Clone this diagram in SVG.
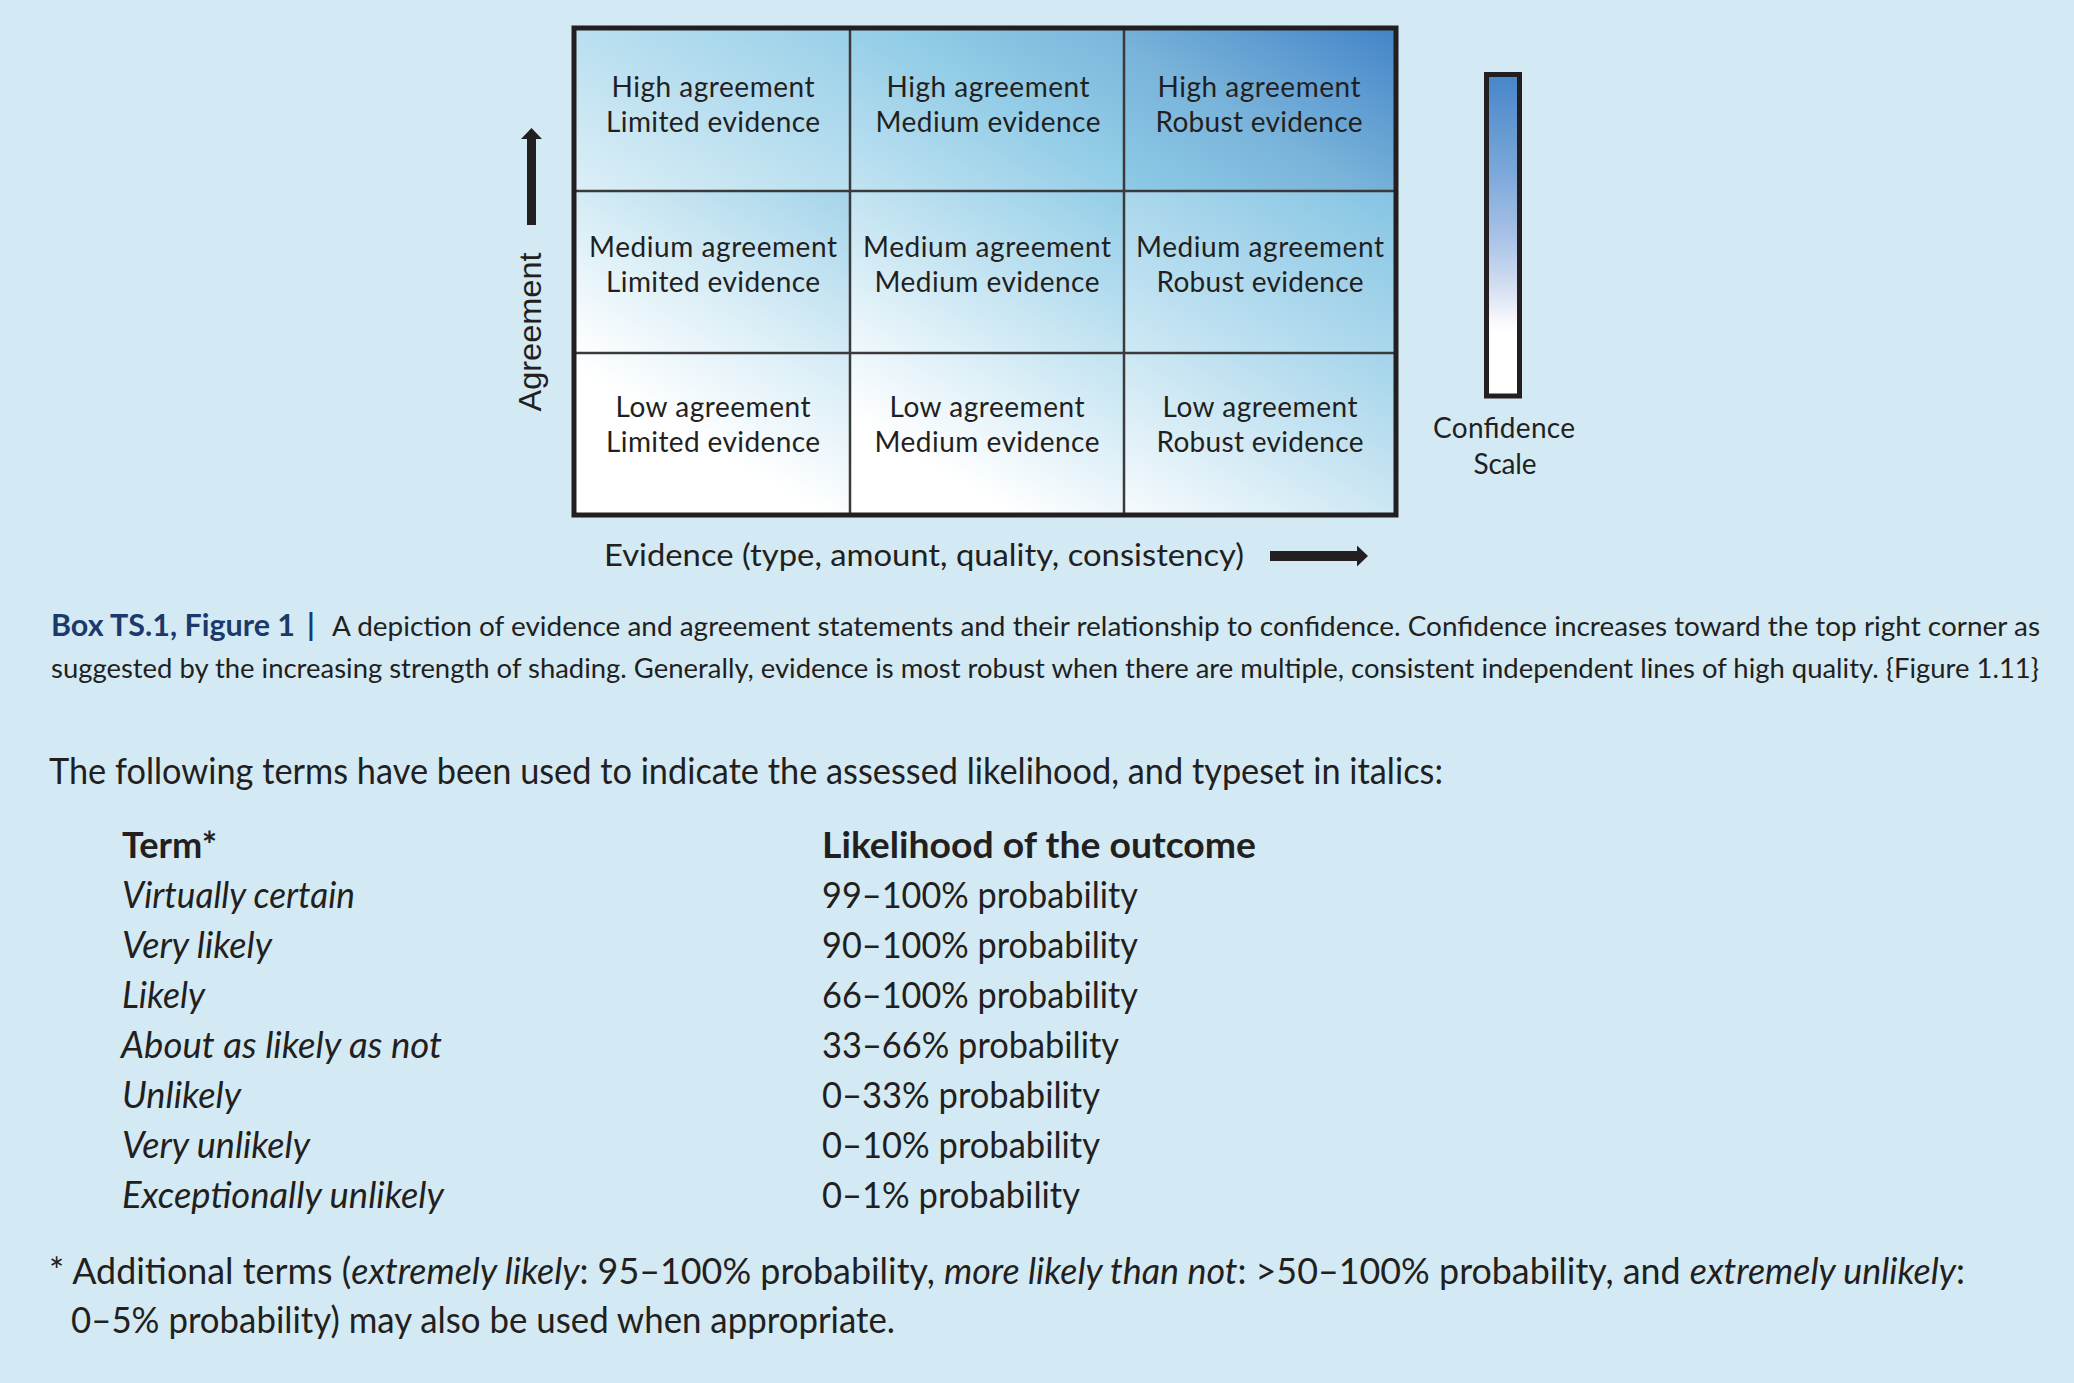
<svg xmlns="http://www.w3.org/2000/svg" width="2074" height="1383" viewBox="0 0 2074 1383">
<style>
  .t { font-family: Lato, "Open Sans", "Liberation Sans", sans-serif; fill: #231f20; }
  .cell { font-size: 28px; text-anchor: middle; }
  .cap { font-size: 27px; }
  .body { font-size: 36px; }
  .b { font-weight: bold; }
  .it { font-style: italic; }
  .navy { fill: #1b3a6b; }
  .inner { stroke: #3a3a3a; stroke-width: 2.5; fill: none; }
  .outer { stroke: #231f20; stroke-width: 5; fill: none; }
  .shaft { stroke: #231f20; fill: none; }
</style>
<defs>
  <linearGradient id="g00" x1="0" y1="1" x2="1" y2="0"><stop offset="0" stop-color="#dceff7"/><stop offset="1" stop-color="#98cfe8"/></linearGradient>
  <linearGradient id="g01" x1="0" y1="1" x2="1" y2="0"><stop offset="0" stop-color="#c2e3f2"/><stop offset="0.55" stop-color="#93cde7"/><stop offset="1" stop-color="#7ab4da"/></linearGradient>
  <linearGradient id="g02" x1="0" y1="1" x2="1" y2="0"><stop offset="0" stop-color="#8ecbe6"/><stop offset="0.45" stop-color="#79b3da"/><stop offset="1" stop-color="#4384c8"/></linearGradient>
  <linearGradient id="g10" x1="0" y1="1" x2="1" y2="0"><stop offset="0" stop-color="#ffffff"/><stop offset="0.45" stop-color="#d8edf6"/><stop offset="1" stop-color="#a4d4ea"/></linearGradient>
  <linearGradient id="g11" x1="0" y1="1" x2="1" y2="0"><stop offset="0" stop-color="#f2f9fc"/><stop offset="1" stop-color="#92cde7"/></linearGradient>
  <linearGradient id="g12" x1="0" y1="1" x2="1" y2="0"><stop offset="0" stop-color="#cfe9f5"/><stop offset="1" stop-color="#84c4e3"/></linearGradient>
  <linearGradient id="g20" x1="0" y1="1" x2="1" y2="0"><stop offset="0" stop-color="#ffffff"/><stop offset="0.45" stop-color="#ffffff"/><stop offset="1" stop-color="#d2eaf5"/></linearGradient>
  <linearGradient id="g21" x1="0" y1="1" x2="1" y2="0"><stop offset="0" stop-color="#ffffff"/><stop offset="0.3" stop-color="#ffffff"/><stop offset="1" stop-color="#c0e2f1"/></linearGradient>
  <linearGradient id="g22" x1="0" y1="1" x2="1" y2="0"><stop offset="0" stop-color="#f7fbfd"/><stop offset="1" stop-color="#a2d3ea"/></linearGradient>
  <linearGradient id="gbar" x1="0" y1="0" x2="0" y2="1">
    <stop offset="0" stop-color="#4686c8"/><stop offset="0.3" stop-color="#7ba7da"/><stop offset="0.5" stop-color="#a7c1e6"/>
    <stop offset="0.65" stop-color="#d0dcf0"/><stop offset="0.77" stop-color="#f8f9fc"/><stop offset="0.8" stop-color="#ffffff"/><stop offset="1" stop-color="#ffffff"/>
  </linearGradient>
  <marker id="head" viewBox="0 0 11 21" refX="0" refY="10.5" markerWidth="11" markerHeight="21" markerUnits="userSpaceOnUse" orient="auto">
    <path d="M0,0 L11,10.5 L0,21 Z" fill="#231f20"/>
  </marker>
</defs>

<rect x="0" y="0" width="2074" height="1383" fill="#d3eaf4"/>

<g id="grid">
  <g id="cell-high-limited">
    <rect x="574" y="28" width="276" height="163" fill="url(#g00)"/>
    <text class="t cell" x="713" y="97" textLength="203">High agreement</text>
    <text class="t cell" x="713" y="132" textLength="214">Limited evidence</text>
  </g>
  <g id="cell-high-medium">
    <rect x="850" y="28" width="274" height="163" fill="url(#g01)"/>
    <text class="t cell" x="988" y="97" textLength="203">High agreement</text>
    <text class="t cell" x="988" y="132" textLength="225">Medium evidence</text>
  </g>
  <g id="cell-high-robust">
    <rect x="1124" y="28" width="272" height="163" fill="url(#g02)"/>
    <text class="t cell" x="1259" y="97" textLength="203">High agreement</text>
    <text class="t cell" x="1259" y="132" textLength="207">Robust evidence</text>
  </g>
  <g id="cell-medium-limited">
    <rect x="574" y="191" width="276" height="162" fill="url(#g10)"/>
    <text class="t cell" x="713" y="257" textLength="248">Medium agreement</text>
    <text class="t cell" x="713" y="292" textLength="214">Limited evidence</text>
  </g>
  <g id="cell-medium-medium">
    <rect x="850" y="191" width="274" height="162" fill="url(#g11)"/>
    <text class="t cell" x="987" y="257" textLength="248">Medium agreement</text>
    <text class="t cell" x="987" y="292" textLength="225">Medium evidence</text>
  </g>
  <g id="cell-medium-robust">
    <rect x="1124" y="191" width="272" height="162" fill="url(#g12)"/>
    <text class="t cell" x="1260" y="257" textLength="248">Medium agreement</text>
    <text class="t cell" x="1260" y="292" textLength="207">Robust evidence</text>
  </g>
  <g id="cell-low-limited">
    <rect x="574" y="353" width="276" height="162" fill="url(#g20)"/>
    <text class="t cell" x="713" y="417" textLength="195">Low agreement</text>
    <text class="t cell" x="713" y="452" textLength="214">Limited evidence</text>
  </g>
  <g id="cell-low-medium">
    <rect x="850" y="353" width="274" height="162" fill="url(#g21)"/>
    <text class="t cell" x="987" y="417" textLength="195">Low agreement</text>
    <text class="t cell" x="987" y="452" textLength="225">Medium evidence</text>
  </g>
  <g id="cell-low-robust">
    <rect x="1124" y="353" width="272" height="162" fill="url(#g22)"/>
    <text class="t cell" x="1260" y="417" textLength="195">Low agreement</text>
    <text class="t cell" x="1260" y="452" textLength="207">Robust evidence</text>
  </g>
  <g id="grid-lines">
    <line class="inner" x1="850" y1="28" x2="850" y2="515"/>
    <line class="inner" x1="1124" y1="28" x2="1124" y2="515"/>
    <line class="inner" x1="574" y1="191" x2="1396" y2="191"/>
    <line class="inner" x1="574" y1="353" x2="1396" y2="353"/>
    <rect class="outer" x="574" y="28" width="822" height="487"/>
  </g>
</g>

<g id="axis-labels">
  <text transform="translate(541,332) rotate(-90)" text-anchor="middle" font-family="'Liberation Sans', Arial, sans-serif" font-size="32" fill="#231f20" textLength="159" lengthAdjust="spacingAndGlyphs">Agreement</text>
  <text class="t" x="604" y="566" font-size="31" textLength="640" lengthAdjust="spacingAndGlyphs">Evidence (type, amount, quality, consistency)</text>
</g>

<g id="connectors">
  <line class="shaft" x1="531.5" y1="225" x2="531.5" y2="139" stroke-width="9" marker-end="url(#head)"/>
  <line class="shaft" x1="1270" y1="556" x2="1357" y2="556" stroke-width="10" marker-end="url(#head)"/>
</g>

<g id="confidence-scale">
  <rect x="1486.5" y="74.5" width="33" height="321.5" fill="url(#gbar)" stroke="#231f20" stroke-width="5"/>
  <text class="t cell" x="1504" y="438" textLength="142">Confidence</text>
  <text class="t cell" x="1505" y="474" textLength="63">Scale</text>
</g>

<g id="caption">
  <text class="t cap b navy" x="51" y="636" font-size="30" textLength="244" lengthAdjust="spacingAndGlyphs" style="font-size:30px">Box TS.1, Figure 1</text>
  <text class="t b navy" x="307" y="636" style="font-size:30px">|</text>
  <text class="t cap" x="332" y="636" textLength="1708" lengthAdjust="spacingAndGlyphs">A depiction of evidence and agreement statements and their relationship to confidence. Confidence increases toward the top right corner as</text>
  <text class="t cap" x="51" y="678" textLength="1988" lengthAdjust="spacingAndGlyphs">suggested by the increasing strength of shading. Generally, evidence is most robust when there are multiple, consistent independent lines of high quality. {Figure 1.11}</text>
</g>

<g id="likelihood-table">
  <text class="t body" x="49" y="784" textLength="1394" lengthAdjust="spacingAndGlyphs">The following terms have been used to indicate the assessed likelihood, and typeset in italics:</text>
  <text class="t body b" x="122" y="858" textLength="95" lengthAdjust="spacingAndGlyphs">Term*</text>
  <text class="t body b" x="822" y="858" textLength="434" lengthAdjust="spacingAndGlyphs">Likelihood of the outcome</text>

  <text class="t body it" x="122" y="908" textLength="233" lengthAdjust="spacingAndGlyphs">Virtually certain</text>
  <text class="t body it" x="122" y="958" textLength="150" lengthAdjust="spacingAndGlyphs">Very likely</text>
  <text class="t body it" x="122" y="1008" textLength="83" lengthAdjust="spacingAndGlyphs">Likely</text>
  <text class="t body it" x="121" y="1058" textLength="321" lengthAdjust="spacingAndGlyphs">About as likely as not</text>
  <text class="t body it" x="122" y="1108" textLength="119" lengthAdjust="spacingAndGlyphs">Unlikely</text>
  <text class="t body it" x="122" y="1158" textLength="188" lengthAdjust="spacingAndGlyphs">Very unlikely</text>
  <text class="t body it" x="122" y="1208" textLength="322" lengthAdjust="spacingAndGlyphs">Exceptionally unlikely</text>

  <text class="t body" x="822" y="908" textLength="316" lengthAdjust="spacingAndGlyphs">99–100% probability</text>
  <text class="t body" x="822" y="958" textLength="316" lengthAdjust="spacingAndGlyphs">90–100% probability</text>
  <text class="t body" x="822" y="1008" textLength="316" lengthAdjust="spacingAndGlyphs">66–100% probability</text>
  <text class="t body" x="822" y="1058" textLength="297" lengthAdjust="spacingAndGlyphs">33–66% probability</text>
  <text class="t body" x="822" y="1108" textLength="278" lengthAdjust="spacingAndGlyphs">0–33% probability</text>
  <text class="t body" x="822" y="1158" textLength="278" lengthAdjust="spacingAndGlyphs">0–10% probability</text>
  <text class="t body" x="822" y="1208" textLength="258" lengthAdjust="spacingAndGlyphs">0–1% probability</text>
</g>

<g id="footnote">
  <text class="t body" x="49" y="1284" textLength="1916" lengthAdjust="spacingAndGlyphs">* Additional terms (<tspan class="it">extremely likely</tspan>: 95–100% probability, <tspan class="it">more likely than not</tspan>: &gt;50–100% probability, and <tspan class="it">extremely unlikely</tspan>:</text>
  <text class="t body" x="71" y="1333" textLength="824" lengthAdjust="spacingAndGlyphs">0–5% probability) may also be used when appropriate.</text>
</g>
</svg>
